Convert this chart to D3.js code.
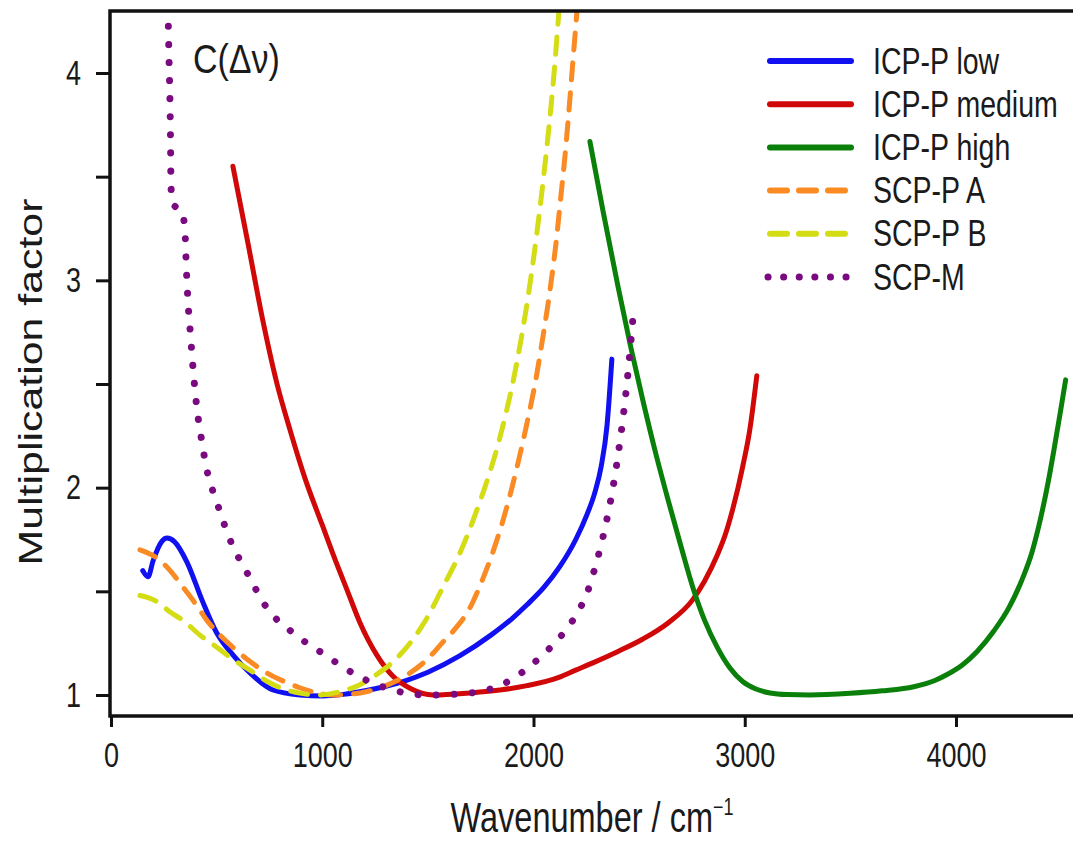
<!DOCTYPE html>
<html>
<head>
<meta charset="utf-8">
<script src="https://cdn.jsdelivr.net/npm/d3@7"></script>
<style>
  body { margin: 0; background: #fff; }
  svg text { font-family: "Liberation Sans", Arial, sans-serif; fill: #1a1a1a; }
</style>
</head>
<body>
<div id="chart"></div>
<script>
// values: [wavenumber, factor]
const icpLow = [[150,1.60],[175,1.57],[200,1.65],[240,1.74],[265,1.757],[300,1.74],[360,1.64],[430,1.46],[500,1.30],[580,1.19],[658,1.106],[767,1.024],[894,1.0],[1000,0.995],[1100,1.003],[1250,1.03],[1382,1.065],[1500,1.11],[1652,1.19],[1800,1.29],[1900,1.37],[1969,1.435],[2050,1.52],[2125,1.62],[2200,1.75],[2253,1.87],[2290,1.975],[2320,2.10],[2348,2.30],[2371,2.62]];
const icpMedium = [[577,3.55],[650,3.17],[720,2.80],[786,2.50],[847,2.28],[920,2.04],[1000,1.82],[1051,1.68],[1120,1.50],[1178,1.35],[1260,1.19],[1335,1.09],[1420,1.03],[1524,1.0],[1700,1.01],[1850,1.025],[1969,1.045],[2120,1.085],[2200,1.12],[2281,1.155],[2400,1.21],[2518,1.27],[2640,1.35],[2754,1.46],[2810,1.55],[2868,1.67],[2910,1.78],[2944,1.90],[2990,2.10],[3024,2.28],[3057,2.54]];
const icpHigh = [[2267,3.67],[2330,3.33],[2400,2.97],[2460,2.68],[2518,2.42],[2580,2.16],[2640,1.93],[2700,1.71],[2754,1.52],[2810,1.36],[2870,1.23],[2930,1.13],[2990,1.065],[3050,1.03],[3120,1.01],[3200,1.002],[3308,1.0],[3500,1.008],[3650,1.02],[3800,1.04],[3900,1.07],[3960,1.10],[4030,1.145],[4100,1.21],[4180,1.31],[4250,1.42],[4310,1.55],[4360,1.69],[4400,1.85],[4435,2.02],[4465,2.19],[4495,2.37],[4519,2.52]];
const scpA = [[137,1.70],[218,1.66],[280,1.60],[341,1.52],[400,1.44],[454,1.36],[515,1.29],[577,1.23],[660,1.16],[738,1.106],[820,1.065],[894,1.035],[970,1.012],[1051,1.0],[1178,1.01],[1260,1.03],[1335,1.06],[1415,1.106],[1495,1.17],[1571,1.255],[1630,1.32],[1699,1.42],[1760,1.56],[1808,1.69],[1855,1.84],[1898,2.00],[1936,2.16],[1969,2.31],[2016,2.55],[2045,2.73],[2068,2.88],[2087,3.02],[2111,3.22],[2125,3.36],[2149,3.60],[2163,3.76],[2186,4.05],[2210,4.35]];
const scpB = [[137,1.48],[175,1.47],[218,1.45],[280,1.40],[341,1.36],[420,1.29],[501,1.23],[580,1.17],[658,1.12],[740,1.065],[814,1.03],[900,1.008],[975,1.0],[1080,1.015],[1178,1.05],[1259,1.10],[1335,1.16],[1415,1.25],[1495,1.37],[1571,1.52],[1652,1.685],[1713,1.84],[1779,2.03],[1830,2.20],[1870,2.36],[1905,2.52],[1935,2.68],[1965,2.86],[1990,3.03],[2015,3.22],[2040,3.43],[2062,3.63],[2082,3.83],[2100,4.03],[2116,4.24],[2130,4.42]];
const scpM = [[268,4.40],[270,4.3],[275,4.05],[279,3.87],[282,3.65],[284,3.45],[293,3.37],[336,3.33],[350,3.24],[357,3.05],[364,2.905],[376,2.74],[388,2.58],[412,2.34],[421,2.28],[454,2.085],[501,1.93],[563,1.75],[644,1.59],[738,1.42],[861,1.30],[1003,1.20],[1145,1.106],[1212,1.07],[1335,1.024],[1495,1.0],[1699,1.01],[1800,1.03],[1888,1.07],[1960,1.12],[2030,1.18],[2100,1.25],[2158,1.32],[2210,1.40],[2253,1.49],[2290,1.61],[2314,1.70],[2350,1.86],[2376,2.0],[2409,2.22],[2442,2.50],[2470,2.81]];

const seriesNames = ["ICP-P low", "ICP-P medium", "ICP-P high", "SCP-P A", "SCP-P B", "SCP-M"];
const seriesData = [icpLow, icpMedium, icpHigh, scpA, scpB, scpM];
const seriesColors = ["#1010f0", "#d00808", "#0a800a", "#f98a24", "#d4dc14", "#7a0a80"];
const seriesDash = ["", "", "", "dash", "dash", "dot"];
const xTicks = [0, 1000, 2000, 3000, 4000];
const yTicks = [1, 1.5, 2, 2.5, 3, 3.5, 4];

const width = 1073, height = 842;
const plotLeft = 110, plotTop = 11, plotBottom = 716;
const stretch = 1.28; // the source picture is taller than wide, text looks stretched

const svg = d3.select("#chart").append("svg")
    .attr("width", width)
    .attr("height", height);

const x = d3.scaleLinear().domain([0, 4000]).range([111, 956]);
const y = d3.scaleLinear().domain([1, 4]).range([695, 73]);

svg.append("defs").append("clipPath").attr("id", "plotClip")
    .append("rect")
    .attr("x", plotLeft).attr("y", plotTop)
    .attr("width", width - plotLeft).attr("height", plotBottom - plotTop);

const line = d3.line()
    .x(d => x(d[0]))
    .y(d => y(d[1]))
    .curve(d3.curveMonotoneX);

function dashFor(kind) {
    if (kind === "dash") return "17,13";
    if (kind === "dot") return "0.1,18";
    return null;
}

const plot = svg.append("g").attr("clip-path", "url(#plotClip)");
seriesData.forEach((data, i) => {
    plot.append("path")
        .datum(data)
        .attr("fill", "none")
        .attr("stroke", seriesColors[i])
        .attr("stroke-width", seriesDash[i] === "dot" ? 7 : 5)
        .attr("stroke-linecap", "round")
        .attr("stroke-linejoin", "round")
        .attr("stroke-dasharray", dashFor(seriesDash[i]))
        .attr("d", line);
});

// axes
const xAxis = svg.append("g")
    .attr("transform", `translate(0,${plotBottom})`)
    .call(d3.axisBottom(x).tickValues(xTicks).tickSize(11).tickPadding(9.5).tickFormat(d3.format("d")));
xAxis.select(".domain").remove();
xAxis.selectAll(".tick line").attr("stroke", "#111").attr("stroke-width", 3);
xAxis.selectAll(".tick text").attr("font-size", 27).attr("fill", "#1a1a1a")
    .attr("transform", `scale(1,${stretch})`);

const yAxis = svg.append("g")
    .attr("transform", `translate(${plotLeft},0)`)
    .call(d3.axisLeft(y).tickValues(yTicks).tickSize(14).tickPadding(15)
        .tickFormat(d => Number.isInteger(d) ? d : ""));
yAxis.select(".domain").remove();
yAxis.selectAll(".tick line").attr("stroke", "#111").attr("stroke-width", 3);
yAxis.selectAll(".tick text").attr("font-size", 27).attr("fill", "#1a1a1a")
    .attr("transform", `scale(1,${stretch})`);

// frame
svg.append("path")
    .attr("d", `M${width},${plotTop}H${plotLeft}V${plotBottom}H${width}`)
    .attr("fill", "none")
    .attr("stroke", "#111")
    .attr("stroke-width", 3.5);

// labels
svg.append("text")
    .attr("transform", `translate(42,382) rotate(-90) scale(${stretch},1)`)
    .attr("text-anchor", "middle")
    .attr("font-size", 33.5)
    .text("Multiplication factor");

const xl = svg.append("text")
    .attr("transform", `translate(592,832) scale(1,1.3)`)
    .attr("text-anchor", "middle")
    .attr("font-size", 32.5);
xl.append("tspan").text("Wavenumber / cm");
xl.append("tspan").attr("dy", -13).attr("font-size", 18).text("\u22121");

const ct = svg.append("text")
    .attr("transform", "translate(193,73) scale(1,1.2)")
    .attr("font-size", 34);
ct.append("tspan").text("C(\u0394\u03bd)");

// legend
const legend = svg.append("g");
seriesNames.forEach((name, i) => {
    const ly = 61 + i * 43.2;
    legend.append("line")
        .attr("x1", seriesDash[i] === "dot" ? 768 : 770)
        .attr("x2", 851)
        .attr("y1", ly).attr("y2", ly)
        .attr("stroke", seriesColors[i])
        .attr("stroke-width", seriesDash[i] === "dot" ? 7 : 6)
        .attr("stroke-linecap", "round")
        .attr("stroke-dasharray", seriesDash[i] === "dash" ? "17,12" : (seriesDash[i] === "dot" ? "0.1,15.5" : null));
    legend.append("text")
        .attr("transform", `translate(873,${ly + 12.5}) scale(1,1.3)`)
        .attr("font-size", 28.5)
        .text(name);
});
</script>
</body>
</html>
